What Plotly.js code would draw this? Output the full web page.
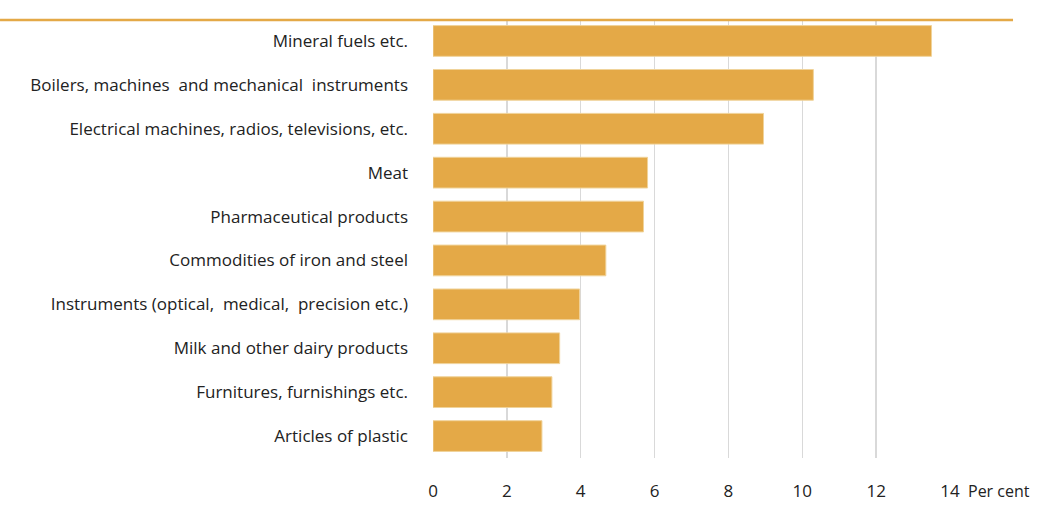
<!DOCTYPE html>
<html><head><meta charset="utf-8">
<script src="https://cdn.plot.ly/plotly-3.0.1.min.js"></script>
<style>html,body{margin:0;padding:0;background:#fff}#c{width:1039px;height:505px}</style>
</head><body><div id="c"></div>
<script>
const categories = [
  "Mineral fuels etc.",
  "Boilers, machines  and mechanical  instruments",
  "Electrical machines, radios, televisions, etc.",
  "Meat",
  "Pharmaceutical products",
  "Commodities of iron and steel",
  "Instruments (optical,  medical,  precision etc.)",
  "Milk and other dairy products",
  "Furnitures, furnishings etc.",
  "Articles of plastic"
];
const values = [13.5, 10.3, 8.95, 5.81, 5.70, 4.68, 3.97, 3.43, 3.22, 2.95];
const xTicks = [0, 2, 4, 6, 8, 10, 12, 14];
const unitLabel = "Per cent";

const font = "'Open Sans', sans-serif";
Plotly.newPlot('c', [{
  type: 'bar', orientation: 'h',
  x: values, y: categories,
  marker: {color: '#E4A947', line: {color: '#F0D39A', width: 1}},
  hoverinfo: 'none'
}], {
  width: 1039, height: 505,
  margin: {l: 433, r: 89, t: 19, b: 47},
  bargap: 0.3,
  paper_bgcolor: '#fff', plot_bgcolor: '#fff',
  font: {family: font, size: 17, color: '#222'},
  xaxis: {range: [0, 14], tickvals: xTicks, showgrid: true, gridcolor: '#d9d9d9', gridwidth: 1.5,
          zeroline: false, showline: false, ticks: '', ticklabelstandoff: 21,
          tickfont: {family: font, size: 17, color: '#222'}},
  yaxis: {autorange: 'reversed', showgrid: false, zeroline: false, showline: false, ticks: '',
          ticklabelstandoff: 24, tickfont: {family: font, size: 17, color: '#222'}},
  shapes: [{type: 'line', xref: 'paper', yref: 'paper', x0: -0.8375, x1: 1.1219, y0: 0.998, y1: 0.998,
            line: {color: '#E4A947', width: 2.5}}],
  annotations: [{xref: 'paper', yref: 'paper', x: 1.0, y: 0, xanchor: 'left', yanchor: 'middle', xshift: 16, yshift: -33,
                 text: unitLabel, showarrow: false, font: {family: font, size: 16, color: '#222'}}]
}, {displayModeBar: false, staticPlot: true});
</script></body></html>
